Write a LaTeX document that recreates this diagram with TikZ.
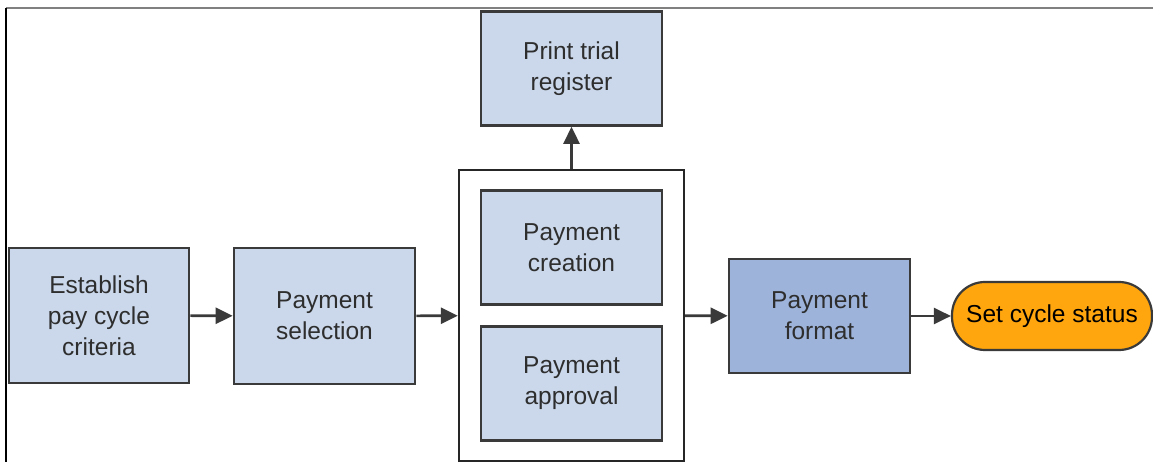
\documentclass[tikz,border=0pt]{standalone}
\usepackage{fontspec}
\setmainfont{Liberation Sans}
\usetikzlibrary{arrows.meta,positioning}
\definecolor{boxblue}{HTML}{CBD8EB}
\definecolor{fmtblue}{HTML}{9DB3DA}
\definecolor{statorange}{HTML}{FFA50D}
\definecolor{edgegray}{HTML}{3A3A3A}
\definecolor{textgray}{HTML}{2E2E2E}

\begin{document}
\begin{tikzpicture}[x=1pt,y=1pt,
  stepbox/.style={draw=edgegray, line width=2.6pt, fill=boxblue, minimum width=181pt,
    minimum height=114pt, align=center, text=textgray, inner sep=0pt,
    font=\fontsize{24.5}{31}\selectfont},
  flow/.style={draw=edgegray, line width=2.6pt, -{Triangle[length=17pt,width=16pt]}}]
  \useasboundingbox (0,0) rectangle (1153,462);
  % outer frame
  \draw[gray, line width=1.5pt] (6,454) -- (1153,454);
  \draw[black, line width=1.5pt] (6,454) -- (6,0);
  % process steps
  \node[stepbox, minimum width=180pt, minimum height=135pt] (criteria) at (99,146.5) {Establish\\pay cycle\\criteria};
  \node[stepbox, minimum height=136pt] (selection) at (324.5,146) {Payment\\selection};
  \node[draw=black!85, line width=2.4pt, minimum width=225pt, minimum height=291pt, inner sep=0pt] (group) at (571.5,146.5) {};
  \node[stepbox] (creation) at (571.5,214.5) {Payment\\creation};
  \node[stepbox] (approval) at (571.5,78.5) {Payment\\approval};
  \node[stepbox] (trial) at (571.5,393.5) {Print trial\\register};
  \node[stepbox, fill=fmtblue] (format) at (819.5,146) {Payment\\format};
  \node[stepbox, fill=statorange, text=black, line width=2.2pt, minimum width=200pt,
    minimum height=68pt, rounded corners=33pt] (status) at (1052,146) {Set cycle status};
  % connectors
  \draw[flow] (criteria) -- (selection);
  \draw[flow] (selection) -- (group);
  \draw[flow] (group) -- (trial);
  \draw[flow] (group) -- (format);
  \draw[flow] (format) -- (status);
\end{tikzpicture}
\end{document}
